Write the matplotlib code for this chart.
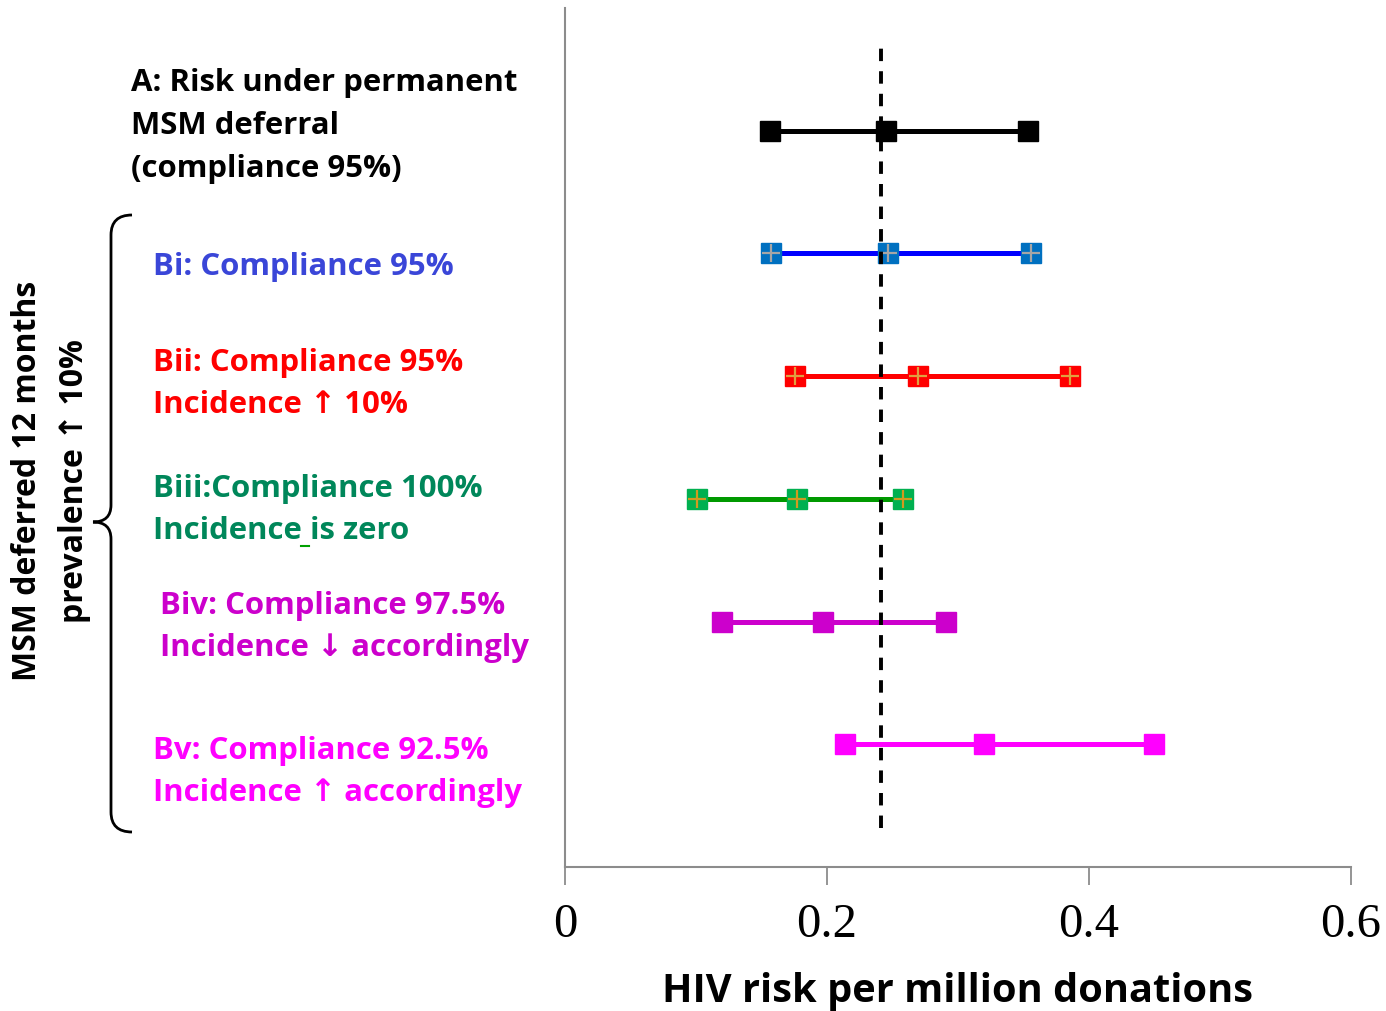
import matplotlib
matplotlib.use("Agg")
import matplotlib.pyplot as plt
from matplotlib.path import Path
from matplotlib.patches import PathPatch
from matplotlib.lines import Line2D

# scenarios from top to bottom
scenarios = ["A", "Bi", "Bii", "Biii", "Biv", "Bv"]
ypos = [6, 5, 4, 3, 2, 1]
low = [0.1565, 0.157, 0.1756, 0.1008, 0.1198, 0.2137]
mid = [0.245, 0.2466, 0.2695, 0.177, 0.197, 0.3198]
high = [0.3534, 0.3557, 0.3855, 0.258, 0.2908, 0.4496]
baseline = 0.2412

line_colors = ["#000000", "#0000FF", "#FF0000", "#009900", "#CC00CC", "#FF00FF"]
marker_fill = ["#000000", "#0070C0", "#FF0000", "#00B050", "#CC00CC", "#FF00FF"]
plus_colors = [None, "#A6A6A6", "#E0A040", "#D09A20", None, None]

label_texts = [
    "A: Risk under permanent\nMSM deferral\n(compliance 95%)",
    "Bi: Compliance 95%",
    "Bii: Compliance 95%\nIncidence \u2191 10%",
    "Biii:Compliance 100%\nIncidence is zero",
    "Biv: Compliance 97.5%\nIncidence \u2193 accordingly",
    "Bv: Compliance 92.5%\nIncidence \u2191 accordingly",
]
label_colors = ["#000000", "#3A46D8", "#FF0000", "#00875A", "#CC00CC", "#FF00FF"]
# label anchor (left x, vertical centre) in pixels of the 1386x1011 image
label_xy = [(131, 126), (153, 267), (153, 384), (153, 510), (160, 627), (153, 772)]

xticks = [0, 0.2, 0.4, 0.6]
xtick_labels = ["0", "0.2", "0.4", "0.6"]

W, H = 1386, 1011
fig = plt.figure(figsize=(W / 100, H / 100), dpi=100)
ax = fig.add_axes([565 / W, 1 - 867 / H, (1351 - 565) / W, (867 - 8) / H])

sans = ["Open Sans", "DejaVu Sans"]

for i in range(len(scenarios)):
    xs = [low[i], mid[i], high[i]]
    ys = [ypos[i]] * 3
    ax.plot(xs, ys, color=line_colors[i], lw=3.6, marker="s", ms=14,
            mfc=marker_fill[i], mec=marker_fill[i], zorder=3)
    if plus_colors[i]:
        ax.plot(xs, ys, ls="none", marker="+", ms=13, mew=1.6,
                color=plus_colors[i], zorder=4)

ax.plot([baseline, baseline], [0.32, 6.72], color="black", lw=2.8,
        ls=(0, (3.2, 2.6)), zorder=5)

ax.set_xlim(0, 0.6)
ax.set_ylim(0, 7)
ax.set_yticks([])
ax.set_xticks(xticks)
ax.set_xticklabels(xtick_labels, fontfamily="Liberation Serif", fontsize=35)
ax.tick_params(axis="x", direction="out", length=13, width=1.3,
               color="#8C8C8C", pad=13)
for s in ["top", "right"]:
    ax.spines[s].set_visible(False)
for s in ["left", "bottom"]:
    ax.spines[s].set_color("#8C8C8C")
    ax.spines[s].set_linewidth(1.5)
ax.set_xlabel("HIV risk per million donations", fontfamily=sans,
              fontweight="bold", fontsize=28.6, labelpad=18)

for txt, col, (px, py) in zip(label_texts, label_colors, label_xy):
    fig.text(px / W, 1 - py / H, txt, color=col, fontfamily=sans,
             fontweight="bold", fontsize=22.4, ha="left", va="center",
             linespacing=1.55)

fig.text(51 / W, 1 - 481 / H, "MSM deferred 12 months\nprevalence \u2191 10%",
         rotation=90, ha="center", va="center", fontfamily=sans,
         fontweight="bold", fontsize=23, linespacing=1.55, multialignment="center")

# small green underscore under the space in "Incidence is"
fig.add_artist(Line2D([301 / W, 309 / W], [1 - 546 / H, 1 - 546 / H],
                      color="#00A000", lw=1.5, transform=fig.transFigure))

# curly brace
def fp(x, y):
    return (x / W, 1 - y / H)

verts = [fp(132, 215), fp(111, 215), fp(111, 235),
         fp(111, 505),
         fp(111, 522), fp(93, 522),
         fp(111, 522), fp(111, 539),
         fp(111, 812),
         fp(111, 832), fp(132, 832)]
codes = [Path.MOVETO, Path.CURVE3, Path.CURVE3,
         Path.LINETO,
         Path.CURVE3, Path.CURVE3,
         Path.CURVE3, Path.CURVE3,
         Path.LINETO,
         Path.CURVE3, Path.CURVE3]
fig.add_artist(PathPatch(Path(verts, codes), fill=False, lw=2,
                         edgecolor="black", transform=fig.transFigure))

fig.savefig("out.png", dpi=100)
